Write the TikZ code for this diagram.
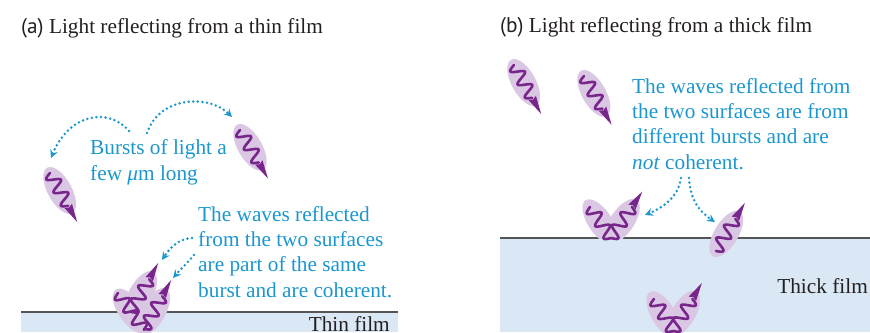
\documentclass[tikz,border=0pt]{standalone}
\usepackage{fontspec}
\setmainfont{Liberation Serif}
\setsansfont{PT Sans}
\usetikzlibrary{arrows.meta}

\definecolor{filmblue}{RGB}{218,232,245}
\definecolor{filmedge}{RGB}{85,85,85}
\definecolor{glowlilac}{RGB}{217,199,227}
\definecolor{wavepurple}{RGB}{121,38,140}
\definecolor{notecyan}{RGB}{27,150,207}
\definecolor{inkdark}{RGB}{35,31,32}

\tikzset{
  glowfill/.style={fill=glowlilac},
  wavepen/.style={draw=wavepurple, line width=2.6pt, line join=round, line cap=round},
  tipfill/.style={fill=wavepurple},
  textsize/.style={font=\fontsize{21.3}{25.3}\selectfont},
  % multi-line notes are placed by the baseline of their last line
  note/.style={textsize, text=notecyan, inner sep=0pt, align=left, anchor=base west},
  heading/.style={textsize, text=inkdark, inner sep=0pt, anchor=base west},
  filmlabel/.style={textsize, text=inkdark, inner sep=0pt, anchor=base east},
  pointer/.style={draw=notecyan, line width=2.8pt, line cap=round,
    dash pattern=on 0pt off 4.6pt,
    -{Stealth[length=8pt,width=8pt,inset=2.8pt]}},
  filmline/.style={draw=filmedge, line width=1.6pt},
}

% a light burst: glow around the wave train, the wave, and its arrow tip
% arguments: start x, start y, direction angle (and centre of the glow / wave length)
\newcommand\glowat[4]{\fill[glowfill,shift={(#1,#2)},rotate=#3] (#4,0) ellipse [x radius=26pt,y radius=12pt];}
\newcommand\waveat[4]{\draw[wavepen,shift={(#1,#2)},rotate=#3] plot[domain=0:#4,samples=80,smooth] (\x,{6.3*sin(\x*24)});}
\newcommand\tipat[3]{\fill[tipfill,shift={(#1,#2)},rotate=#3] (39.5,0) -- (37.5,4.3) -- (56,0) -- (37.5,-4.3) -- cycle;}
\newcommand\burstat[3]{\glowat{#1}{#2}{#3}{20}\waveat{#1}{#2}{#3}{37.5}\tipat{#1}{#2}{#3}}

\begin{document}
\begin{tikzpicture}[x=1pt,y=-1pt]
\useasboundingbox (0,0) rectangle (870,332);
\clip (0,0) rectangle (870,332);

% ---------- (a) thin film ----------
\node[heading] (titleA) at (21,33) {{\sffamily (a)} Light reflecting from a thin film};

\fill[filmblue] (21,312) rectangle (398,332);
\draw[filmline] (21,312) -- (398,312);
\node[filmlabel] (thinlabel) at (390,331) {Thin film};

\burstat{50}{173}{-61}
\burstat{240}{130}{-60}

% reflection from the front and back surfaces of the thin film
\glowat{118}{293}{-55}{22}
\glowat{131}{312}{61}{20}
\glowat{144}{329}{61}{20}
\waveat{118}{293}{-55}{45}
\waveat{131}{312}{61}{37.5}\tipat{131}{312}{61}
\waveat{144}{329}{61}{37.5}\tipat{144}{329}{61}

\node[note] (burstnote) at (90,180) {Bursts of light a\\few \textit{μ}m long};
\node[note] (samenote) at (198,297) {The waves reflected\\from the two surfaces\\are part of the same\\burst and are coherent.};

\coordinate (pa1s) at (129,131); \coordinate (pa1e) at (51,158);
\coordinate (pa2s) at (147,133); \coordinate (pa2e) at (232,117);
\coordinate (pa3s) at (192,238); \coordinate (pa3e) at (162,260);
\coordinate (pa4s) at (194,255); \coordinate (pa4e) at (173,278);
\draw[pointer] (pa1s) .. controls (110,108) and (70,112) .. (pa1e);
\draw[pointer] (pa2s) .. controls (160,95) and (210,95) .. (pa2e);
\draw[pointer] (pa3s) .. controls (178,239) and (170,248) .. (pa3e);
\draw[pointer] (pa4s) .. controls (188,262) and (180,270) .. (pa4e);

% ---------- (b) thick film ----------
\node[heading] (titleB) at (500,32) {{\sffamily (b)} Light reflecting from a thick film};

\fill[filmblue] (500,238) rectangle (870,332);
\draw[filmline] (500,238) -- (870,238);
\node[filmlabel] (thicklabel) at (868,293) {Thick film};

\burstat{514}{65}{-61}
\burstat{584}{76}{-60.5}

% reflection at the front surface
\begin{scope}
  \clip (500,0) rectangle (870,238);
  \glowat{590}{207}{-56}{18}
  \glowat{611}{238}{56}{20}
\end{scope}
\waveat{590}{207}{-56}{37.5}
\waveat{611}{238}{56}{37.5}\tipat{611}{238}{56}

% burst reflected from the back surface, crossing the front surface
\burstat{716}{251}{59}

% reflection at the back surface
\glowat{654}{299}{-59}{18}
\glowat{673}{331}{59}{20}
\waveat{654}{299}{-59}{37.5}
\waveat{673}{331}{59}{37.5}\tipat{673}{331}{59}

\node[note] (diffnote) at (632,169) {The waves reflected from\\the two surfaces are from\\different bursts and are\\\textit{not} coherent.};

\coordinate (pb1s) at (681,178); \coordinate (pb1e) at (645,215);
\coordinate (pb2s) at (689,178); \coordinate (pb2e) at (715,222);
\draw[pointer] (pb1s) .. controls (678,198) and (662,208) .. (pb1e);
\draw[pointer] (pb2s) .. controls (690,200) and (700,212) .. (pb2e);
\end{tikzpicture}
\end{document}
